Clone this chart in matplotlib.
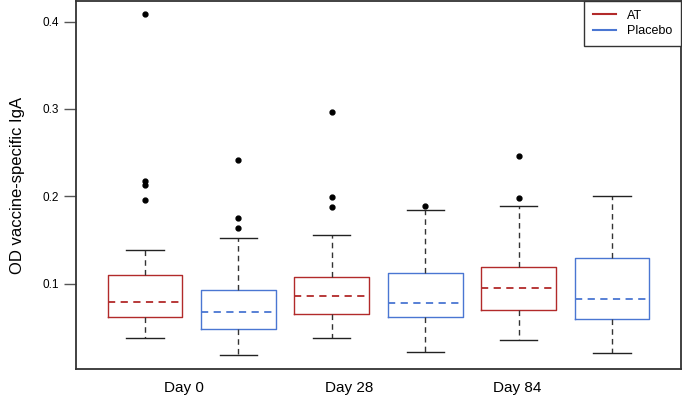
import matplotlib.pyplot as plt
from matplotlib.lines import Line2D

plt.rcParams['font.family'] = ['Liberation Sans', 'DejaVu Sans']

# values (OD vaccine-specific IgA)
groups = ['Day 0', 'Day 28', 'Day 84']
arms = ['AT', 'Placebo', 'AT', 'Placebo', 'AT', 'Placebo']
q1 = [0.0615, 0.0485, 0.0653, 0.0615, 0.0699, 0.0600]
medians = [0.0790, 0.0676, 0.0863, 0.0779, 0.0954, 0.0820]
q3 = [0.1100, 0.0928, 0.1072, 0.1118, 0.1195, 0.1290]
whisker_lo = [0.0382, 0.0180, 0.0374, 0.0222, 0.0356, 0.0210]
whisker_hi = [0.1380, 0.1526, 0.1553, 0.1847, 0.1892, 0.2003]
outliers = [
    [0.4086, 0.2170, 0.2130, 0.1953],
    [0.2410, 0.1755, 0.1640],
    [0.2960, 0.1990, 0.1880],
    [0.1890],
    [0.2465, 0.1984],
    [],
]
group_label_pos = [1.42, 3.19, 4.98]

arm_colors = {'AT': '#B22A2A', 'Placebo': '#4A76D2'}

fig = plt.figure(figsize=(6.82, 4.09), dpi=100)
ax = fig.add_axes([0.1114, 0.0978, 0.8872, 0.9])

stats = []
for i in range(len(arms)):
    stats.append({
        'q1': q1[i], 'med': medians[i], 'q3': q3[i],
        'whislo': whisker_lo[i], 'whishi': whisker_hi[i],
        'fliers': outliers[i],
    })

positions = list(range(1, len(arms) + 1))
for i, s in enumerate(stats):
    c = arm_colors[arms[i]]
    ax.bxp([s], positions=[positions[i]], widths=0.8, showfliers=True,
           boxprops=dict(color=c, linewidth=1.0),
           medianprops=dict(color=c, linewidth=1.3, linestyle=(0, (4, 3))),
           whiskerprops=dict(color='#333333', linewidth=1.0, linestyle=(0, (4, 3))),
           capprops=dict(color='#222222', linewidth=1.0),
           capwidths=0.4,
           flierprops=dict(marker='o', markerfacecolor='black',
                           markeredgecolor='black', markersize=3.5,
                           linestyle='none'))

ax.set_xlim(0.26, 6.74)
ax.set_ylim(0.0024, 0.4236)
ax.set_yticks([0.1, 0.2, 0.3, 0.4])
ax.set_yticklabels(['0.1', '0.2', '0.3', '0.4'])
ax.tick_params(axis='y', length=9, width=1.0, color='#555555', labelsize=8.5, pad=3.5)
ax.set_xticks(group_label_pos)
ax.set_xticklabels(groups, fontsize=11)
ax.tick_params(axis='x', length=0, pad=9)
ax.set_ylabel('OD vaccine-specific IgA', fontsize=12, labelpad=12)

for sp in ax.spines.values():
    sp.set_color('#333333')
    sp.set_linewidth(1.3)

handles = [Line2D([], [], color=arm_colors['AT'], linewidth=1.5),
           Line2D([], [], color=arm_colors['Placebo'], linewidth=1.5)]
leg = ax.legend(handles, ['AT', 'Placebo'], loc='upper right', fontsize=9,
                fancybox=False, edgecolor='#333333', framealpha=1,
                borderaxespad=0, handlelength=1.85, labelspacing=0.3,
                borderpad=0.7, handletextpad=0.9)
leg.get_frame().set_linewidth(1.0)

fig.savefig('out.png', dpi=100)
